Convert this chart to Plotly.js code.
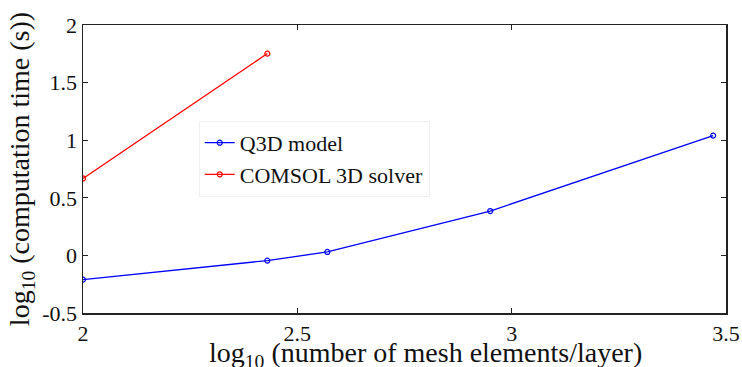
<!DOCTYPE html>
<html>
<head>
<meta charset="utf-8">
<script src="https://cdn.plot.ly/plotly-3.0.1.min.js"></script>
<style>html,body{margin:0;padding:0;background:#fff;}#chart{width:742px;height:367px;}</style>
</head>
<body>
<div id="chart"></div>
<script>
const q3dX = [2.0, 2.43, 2.57, 2.95, 3.47];
const q3dY = [-0.21, -0.045, 0.03, 0.385, 1.04];
const comsolX = [2.0, 2.43];
const comsolY = [0.668, 1.752];
const xTicks = [2, 2.5, 3, 3.5];
const xTickText = ['2', '2.5', '3', '3.5'];
const yTicks = [-0.5, 0, 0.5, 1, 1.5, 2];
const yTickText = ['-0.5', '0', '0.5', '1', '1.5', '2'];
const xTitle = 'log<sub>10</sub> (number of mesh elements/layer)';
const yTitle = 'log<sub>10</sub> (computation time (s))';

const traces = [
  {x: q3dX, y: q3dY, name: 'Q3D model', mode: 'lines+markers', type: 'scatter',
   line: {color: '#0000ff', width: 1.3},
   marker: {symbol: 'circle-open', size: 5, color: '#0000ff', line: {width: 1.2}}},
  {x: comsolX, y: comsolY, name: 'COMSOL 3D solver', mode: 'lines+markers', type: 'scatter',
   line: {color: '#ff0000', width: 1.3},
   marker: {symbol: 'circle-open', size: 5, color: '#ff0000', line: {width: 1.2}}}
];
const layout = {
  width: 742, height: 367,
  font: {family: 'Liberation Serif', size: 20, color: '#111'},
  margin: {l: 83, r: 16, t: 25, b: 54},
  paper_bgcolor: '#fff', plot_bgcolor: '#fff',
  showlegend: true,
  legend: {x: 0.18, y: 0.667, xanchor: 'left', yanchor: 'top',
    bgcolor: '#fff', bordercolor: '#f0f0f0', borderwidth: 1,
    font: {family: 'Liberation Serif', size: 22, color: '#111'}, itemwidth: 30, tracegroupgap: 0},
  xaxis: {
    showgrid: false, zeroline: false, showline: true, mirror: 'ticks',
    linecolor: '#222', linewidth: 1.5, ticks: 'inside', ticklen: 5, tickwidth: 1, tickcolor: '#222',
    tickfont: {family: 'Liberation Serif', size: 22, color: '#111'},
    range: [2, 3.5], tickvals: xTicks, ticktext: xTickText
  },
  yaxis: {
    showgrid: false, zeroline: false, showline: true, mirror: 'ticks',
    linecolor: '#222', linewidth: 1.5, ticks: 'inside', ticklen: 5, tickwidth: 1, tickcolor: '#222',
    tickfont: {family: 'Liberation Serif', size: 22, color: '#111'},
    range: [-0.5, 2], tickvals: yTicks, ticktext: yTickText,
    title: {text: yTitle, font: {family: 'Liberation Serif', size: 28, color: '#111'}, standoff: 4}
  },
  annotations: [
    {text: xTitle, xref: 'paper', yref: 'paper', x: 0.533, y: -0.145,
     xanchor: 'center', yanchor: 'middle', showarrow: false,
     font: {family: 'Liberation Serif', size: 28, color: '#111'}}
  ]
};
Plotly.newPlot('chart', traces, layout, {displayModeBar: false, staticPlot: true});
</script>
</body>
</html>
